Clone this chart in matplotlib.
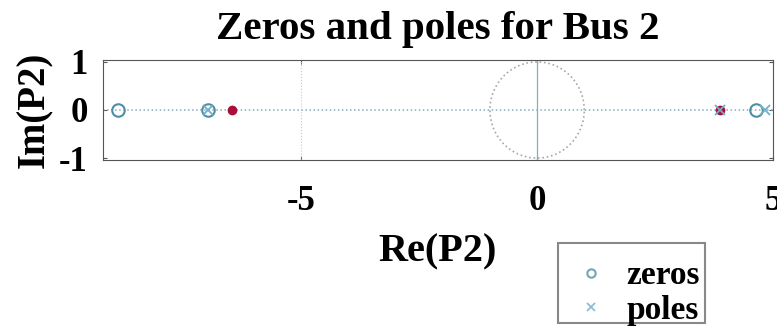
import numpy as np
import matplotlib.pyplot as plt
from matplotlib.patches import Rectangle

plt.rcParams['font.family'] = ['Liberation Serif', 'DejaVu Serif']
plt.rcParams['font.weight'] = 'bold'
plt.rcParams['axes.unicode_minus'] = False

# pole-zero data (real parts, imaginary parts are zero)
zeros_re = [-8.88, -6.97, 4.64]
zeros_im = [0, 0, 0]
poles_re = [-6.97, 3.88, 4.83]
poles_im = [0, 0, 0]
marked_re = [-6.46, 3.88]
marked_im = [0, 0]
xticks = [-5, 0, 5]
yticks = [-1, 0, 1]

fig = plt.figure(figsize=(7.77, 3.27), dpi=100)
W, H = 777, 327
ax = fig.add_axes([103 / W, 1 - 160 / H, (773 - 103) / W, 100 / H])

# unit circle and axes lines
t = np.linspace(0, 2 * np.pi, 200)
ax.plot(np.cos(t), np.sin(t), ':', color='#a8a8a8', lw=1.2)
ax.axvline(0, color='#86aebb', lw=0.9)
ax.axvline(-5, color='#c8c8c8', lw=0.8, ls=':')
ax.axhline(0, color='#86aebb', lw=1.1, ls=':')

ax.plot(marked_re, marked_im, 'o', color='#a8103c', ms=6, zorder=3)
ax.plot(zeros_re, zeros_im, 'o', mfc='none', mec='#4f8fa5', ms=9, mew=1.5,
        ls='none', label='zeros', zorder=4)
ax.plot(poles_re, poles_im, 'x', color='#6fb0c8', ms=7, mew=1.3,
        ls='none', label='poles', zorder=4)

ax.set_xlim(-9.2, 5.0)
ax.set_ylim(-1.04, 1.04)
ax.set_xticks(xticks)
ax.set_yticks(yticks)
ax.tick_params(axis='both', labelsize=25, length=3, direction='in',
               top=True, right=True, color='#555555')
ax.tick_params(axis='x', pad=18)
ax.tick_params(axis='y', pad=11)
for s in ax.spines.values():
    s.set_color('#555555')

ax.set_title('Zeros and poles for Bus 2', fontsize=29.5, fontweight='bold', pad=15)
ax.set_xlabel('Re(P2)', fontsize=29, fontweight='bold', labelpad=11)
ax.set_ylabel('Im(P2)', fontsize=28, fontweight='bold', labelpad=4)

# legend box drawn separately so its size matches
fig.patches.append(Rectangle((558 / W, 1 - 323 / H), (705 - 558) / W, 80 / H,
                             transform=fig.transFigure, fill=False,
                             edgecolor='#888888', lw=1.5))
handles, labels = ax.get_legend_handles_labels()
leg = fig.legend(handles, labels, loc='upper left', bbox_to_anchor=(558 / W, 1 - 247 / H),
                 fontsize=24, frameon=False,
                 handlelength=1.15, handletextpad=0.5, borderpad=0.4,
                 labelspacing=0.11, borderaxespad=0)
for h in leg.legend_handles:
    h.set_markersize(6)
    h.set_alpha(0.8)

fig.savefig('out.png', dpi=100)
